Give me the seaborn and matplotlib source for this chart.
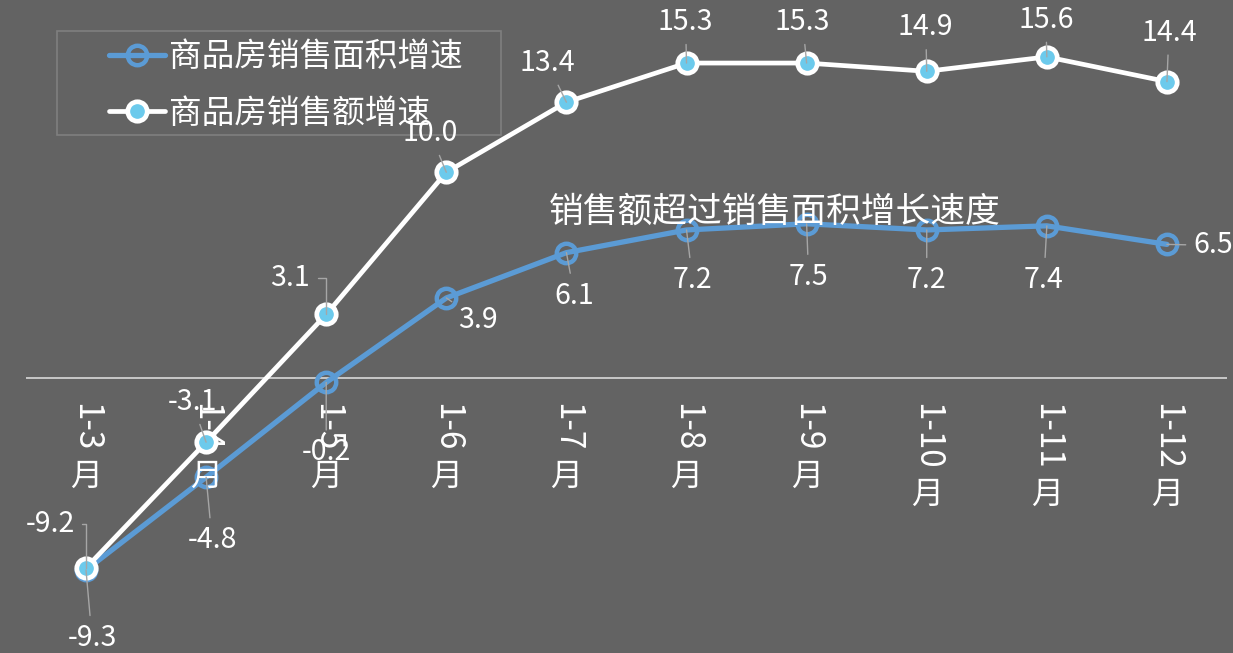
import numpy as np
import pandas as pd
import matplotlib
matplotlib.use('Agg')
import matplotlib.pyplot as plt
import seaborn as sns
from matplotlib.patches import Rectangle

# data
months = ['1-3', '1-4', '1-5', '1-6', '1-7', '1-8', '1-9', '1-10', '1-11', '1-12']
area_growth = [-9.3, -4.8, -0.2, 3.9, 6.1, 7.2, 7.5, 7.2, 7.4, 6.5]
sales_growth = [-9.2, -3.1, 3.1, 10.0, 13.4, 15.3, 15.3, 14.9, 15.6, 14.4]
area_name = '商品房销售面积增速'
sales_name = '商品房销售额增速'
note_text = '销售额超过销售面积增长速度'

# label offsets in pixels (layout only)
area_offsets = [(6, -68), (6, -63), (0, -70), (32, -22), (8, -43),
                (6, -50), (2, -53), (0, -50), (-3, -54), (46, -1)]
sales_offsets = [(-36, 44), (-14, 40), (-36, 36), (-16, 39), (-19, 39),
                 (-1, 41), (-4, 41), (-1, 44), (-1, 37), (2, 49)]
sales_elbows = {0, 2}

bg = '#636363'
blue = '#5b9bd5'
light_blue = '#6ccaec'
leader = '#a6a6a6'

sns.set_style('white')
plt.rcParams['font.family'] = ['Noto Sans CJK SC', 'DejaVu Sans']

df = pd.DataFrame({'pos': np.arange(len(months)),
                   'area': area_growth, 'sales': sales_growth})

fig = plt.figure(figsize=(12.33, 6.53), dpi=100, facecolor=bg)
ax = fig.add_axes([0, 0, 1, 1])
ax.set_facecolor(bg)

sns.lineplot(data=df, x='pos', y='area', ax=ax, color=blue, lw=3.8,
             marker='o', ms=14, mfc='none', mec=blue, mew=3.2,
             label=area_name, zorder=3)
sns.lineplot(data=df, x='pos', y='sales', ax=ax, color='white', lw=3.4,
             marker='o', ms=14, mfc=light_blue, mec='white', mew=3.4,
             label=sales_name, zorder=4)

ax.set_xlim(-0.716, 9.55)
ax.set_ylim(-13.33, 18.36)
ax.hlines(0, -0.5, 9.5, color='#d9d9d9', lw=1.2, zorder=2)
for s in ax.spines.values():
    s.set_visible(False)
ax.set_xticks([])
ax.set_yticks([])
ax.set_xlabel('')
ax.set_ylabel('')


def put_labels(values, offsets, elbows=()):
    for i, (v, (dx, dy)) in enumerate(zip(values, offsets)):
        far = np.hypot(dx, dy) > 35
        props = None
        if far:
            props = dict(arrowstyle='-', color=leader, lw=1,
                         shrinkA=3, shrinkB=0)
            if i in elbows:
                props['connectionstyle'] = 'angle,angleA=0,angleB=90,rad=0'
        ax.annotate(f'{v:.1f}', xy=(i, v), xytext=(dx, dy),
                    textcoords='offset pixels', ha='center', va='center',
                    fontsize=20.5, color='white', zorder=6, arrowprops=props)


put_labels(area_growth, area_offsets)
put_labels(sales_growth, sales_offsets, sales_elbows)

ax.text(3.85, 8.07, note_text, fontsize=25, color='white',
        ha='left', va='center', zorder=7)

# vertical category labels: rotated number then upright 月
num_texts = []
for i, m in enumerate(months):
    t = ax.annotate(m, xy=(i, 0), xytext=(0, -25), textcoords='offset pixels',
                    rotation=-90, ha='center', va='top', fontsize=24,
                    color='white')
    num_texts.append(t)
fig.canvas.draw()
r = fig.canvas.get_renderer()
inv = ax.transData.inverted()
for i, t in enumerate(num_texts):
    bb = t.get_window_extent(r)
    y_data = inv.transform((0, bb.y0 - 9))[1]
    ax.text(i, y_data, '月', rotation=0, ha='center', va='top',
            fontsize=23, color='white')

leg = ax.legend(loc='upper left', bbox_to_anchor=(0.078, 0.957),
                frameon=False, fontsize=23.5, handlelength=1.72,
                handletextpad=0.1, labelspacing=0.75, borderaxespad=0)
for txt in leg.get_texts():
    txt.set_color('white')
ax.add_patch(Rectangle((57 / 1233, 1 - 135 / 653), 444 / 1233, 104 / 653,
                       transform=ax.transAxes, fill=False,
                       edgecolor='#7f7f7f', lw=1.2, zorder=1))

fig.savefig('out.png', dpi=100, facecolor=bg)
